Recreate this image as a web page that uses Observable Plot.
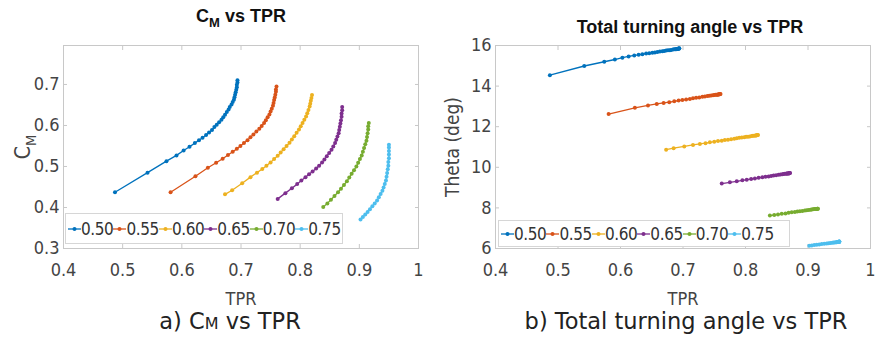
<!DOCTYPE html>
<html>
<head>
<meta charset="utf-8">
<script src="https://cdn.jsdelivr.net/npm/d3@7"></script>
<script src="https://cdn.jsdelivr.net/npm/@observablehq/plot@0.6"></script>
<style>
  body { margin: 0; background: white; }
  #wrap { position: relative; width: 879px; height: 340px; background: white; overflow: hidden; }
  .panel { position: absolute; top: 0; }
  .title { position: absolute; font-family: "Liberation Sans", Arial, sans-serif; font-weight: bold; font-size: 18px; color: #111; transform: translateX(-50%); white-space: nowrap; }
  .title sub { font-size: 13px; vertical-align: -5px; }
  .caption { position: absolute; font-family: "DejaVu Sans", sans-serif; font-size: 22.5px; color: #222; transform: translateX(-50%); white-space: nowrap; }
  .legend { position: absolute; display: flex; align-items: center; box-sizing: border-box; border: 1px solid #d6d6d6; background: white; padding-left: 2px;
            font-family: "Liberation Sans Narrow", "Arial Narrow", "DejaVu Sans Condensed", sans-serif; font-size: 17px; letter-spacing: -0.4px; color: #333; }
  .entry { display: inline-flex; align-items: center; }
</style>
</head>
<body>
<div id="wrap"></div>
<script>
// ---------- data ----------
const labels = ["0.50", "0.55", "0.60", "0.65", "0.70", "0.75"];
const colors = ["#0072BD", "#D95319", "#EDB120", "#7E2F8E", "#77AC30", "#4DBEEE"];

const tpr050 = [0.487,0.542,0.574,0.591,0.603,0.613,0.622,0.629,0.635,0.641,0.646,0.651,0.655,0.659,0.663,0.667,0.670,0.673,0.676,0.679,0.681,0.684,0.686,0.688,0.689,0.690,0.691,0.692,0.693,0.693,0.694,0.694];
const cm050 = [0.437,0.485,0.513,0.527,0.539,0.548,0.557,0.564,0.570,0.577,0.583,0.589,0.596,0.602,0.608,0.614,0.620,0.626,0.633,0.639,0.645,0.651,0.657,0.663,0.669,0.675,0.681,0.687,0.693,0.699,0.705,0.710];
const theta050 = [14.54,14.99,15.20,15.31,15.40,15.46,15.51,15.54,15.57,15.60,15.62,15.64,15.66,15.68,15.70,15.72,15.73,15.75,15.76,15.77,15.78,15.80,15.81,15.82,15.82,15.83,15.83,15.84,15.84,15.85,15.85,15.86];

const tpr055 = [0.581,0.623,0.644,0.658,0.669,0.678,0.686,0.693,0.699,0.705,0.711,0.716,0.721,0.726,0.731,0.735,0.739,0.742,0.745,0.748,0.750,0.752,0.754,0.755,0.756,0.757,0.758,0.759,0.759,0.760];
const cm055 = [0.437,0.476,0.497,0.509,0.519,0.528,0.536,0.543,0.550,0.557,0.564,0.571,0.578,0.585,0.592,0.599,0.606,0.613,0.620,0.627,0.634,0.641,0.648,0.655,0.662,0.668,0.675,0.682,0.688,0.695];
const theta055 = [12.62,12.93,13.05,13.12,13.17,13.21,13.25,13.29,13.31,13.34,13.37,13.40,13.42,13.44,13.47,13.49,13.51,13.52,13.54,13.55,13.56,13.57,13.58,13.58,13.59,13.59,13.60,13.60,13.61,13.61];

const tpr060 = [0.673,0.685,0.702,0.716,0.727,0.736,0.743,0.750,0.756,0.762,0.767,0.772,0.777,0.782,0.786,0.790,0.794,0.798,0.801,0.804,0.807,0.810,0.812,0.814,0.816,0.817,0.818,0.819,0.820];
const cm060 = [0.432,0.442,0.459,0.474,0.485,0.494,0.502,0.510,0.518,0.526,0.534,0.542,0.550,0.558,0.566,0.574,0.582,0.590,0.598,0.606,0.614,0.622,0.630,0.638,0.646,0.653,0.660,0.667,0.674];
const theta060 = [10.87,10.94,11.03,11.10,11.15,11.19,11.23,11.26,11.29,11.31,11.34,11.36,11.38,11.41,11.43,11.45,11.47,11.48,11.50,11.51,11.52,11.54,11.55,11.56,11.57,11.57,11.58,11.59,11.59];

const tpr065 = [0.762,0.775,0.786,0.795,0.802,0.809,0.815,0.821,0.827,0.832,0.837,0.841,0.845,0.849,0.853,0.856,0.859,0.861,0.863,0.865,0.866,0.867,0.868,0.869,0.870,0.870,0.871,0.871];
const cm065 = [0.421,0.435,0.447,0.457,0.466,0.474,0.481,0.488,0.495,0.502,0.510,0.517,0.525,0.533,0.541,0.549,0.557,0.565,0.573,0.581,0.589,0.597,0.605,0.613,0.621,0.629,0.637,0.645];
const theta065 = [9.20,9.26,9.31,9.36,9.39,9.42,9.45,9.48,9.51,9.53,9.55,9.57,9.59,9.61,9.63,9.64,9.66,9.67,9.68,9.68,9.69,9.69,9.70,9.70,9.71,9.71,9.72,9.72];

const tpr070 = [0.839,0.846,0.852,0.858,0.864,0.869,0.874,0.879,0.883,0.887,0.891,0.895,0.898,0.901,0.904,0.906,0.908,0.910,0.912,0.913,0.914,0.915,0.915,0.916];
const cm070 = [0.401,0.410,0.419,0.428,0.437,0.446,0.455,0.464,0.473,0.482,0.491,0.500,0.509,0.518,0.527,0.536,0.545,0.554,0.563,0.572,0.581,0.590,0.598,0.606];
const theta070 = [7.62,7.65,7.68,7.71,7.73,7.76,7.78,7.80,7.82,7.84,7.85,7.87,7.89,7.90,7.91,7.92,7.93,7.94,7.94,7.95,7.95,7.96,7.96,7.96];

const tpr075 = [0.902,0.906,0.910,0.914,0.918,0.922,0.926,0.930,0.933,0.936,0.939,0.941,0.943,0.945,0.946,0.947,0.948,0.949,0.949,0.950,0.950,0.950,0.950,0.950];
const cm075 = [0.371,0.377,0.383,0.389,0.396,0.403,0.410,0.417,0.425,0.433,0.441,0.449,0.457,0.466,0.475,0.484,0.493,0.502,0.511,0.520,0.529,0.538,0.546,0.553];
const theta075 = [6.13,6.15,6.17,6.19,6.20,6.22,6.23,6.25,6.26,6.27,6.28,6.29,6.30,6.31,6.31,6.32,6.32,6.32,6.33,6.33,6.33,6.33,6.34,6.34];

const xTicks = [0.4, 0.5, 0.6, 0.7, 0.8, 0.9, 1];
const cmTicks = [0.3, 0.4, 0.5, 0.6, 0.7];
const thetaTicks = [6, 8, 10, 12, 14, 16];

// ---------- build table ----------
const seriesList = [
  [labels[0], tpr050, cm050, theta050],
  [labels[1], tpr055, cm055, theta055],
  [labels[2], tpr060, cm060, theta060],
  [labels[3], tpr065, cm065, theta065],
  [labels[4], tpr070, cm070, theta070],
  [labels[5], tpr075, cm075, theta075]
];
const rows = seriesList.flatMap(([label, t, c, th]) => t.map((v, i) => ({label, tpr: v, cm: c[i], theta: th[i]})));

const FONT = "'Liberation Sans Narrow','Arial Narrow','DejaVu Sans Condensed','Liberation Sans',sans-serif";
const AX = "#c8c8c8";
const fmt = d => String(d);

function panel({width, marginLeft, marginRight, yKey, yDomain, yTicks, yLabel, yLabelOffset}) {
  return Plot.plot({
    width, height: 310,
    marginLeft, marginRight, marginTop: 45, marginBottom: 62,
    style: {fontFamily: FONT, fontSize: "18px", color: "#444", background: "white", overflow: "visible"},
    x: {domain: [0.4, 1]},
    y: {domain: yDomain},
    color: {domain: labels, range: colors},
    marks: [
      Plot.frame({stroke: AX}),
      Plot.axisX(xTicks, {anchor: "bottom", tickSize: -4, tickPadding: 19, stroke: AX, tickFormat: fmt,
        label: "TPR", labelAnchor: "center", labelOffset: 56, labelArrow: "none"}),
      Plot.axisX(xTicks, {anchor: "top", tickSize: -4, stroke: AX, tickFormat: () => "", label: null}),
      Plot.axisY(yTicks, {anchor: "left", tickSize: -4, tickPadding: 8, stroke: AX, tickFormat: fmt,
        label: yLabel, labelAnchor: "center", labelOffset: yLabelOffset, labelArrow: "none"}),
      Plot.axisY(yTicks, {anchor: "right", tickSize: -4, stroke: AX, tickFormat: () => "", label: null}),
      Plot.line(rows, {x: "tpr", y: yKey, z: "label", stroke: "label", strokeWidth: 1.3}),
      Plot.dot(rows, {x: "tpr", y: yKey, fill: "label", r: 2})
    ]
  });
}

const wrap = document.getElementById("wrap");

const left = panel({width: 440, marginLeft: 63, marginRight: 22, yKey: "cm", yDomain: [0.3, 0.795], yTicks: cmTicks, yLabel: "C", yLabelOffset: 48});
left.classList.add("panel"); left.style.left = "0px";
wrap.appendChild(left);

const right = panel({width: 439, marginLeft: 55, marginRight: 9, yKey: "theta", yDomain: [6, 16], yTicks: thetaTicks, yLabel: "Theta (deg)", yLabelOffset: 50});
right.classList.add("panel"); right.style.left = "440px";
wrap.appendChild(right);

// bigger axis labels; subscript M on the C_M axis label
d3.select(left).selectAll("text").filter(function() { return this.textContent === "C"; })
  .attr("font-size", 21)
  .each(function() {
    d3.select(this).append("tspan").attr("dy", "0.35em").attr("font-size", "0.7em").text("M");
  });
d3.select(right).selectAll("text").filter(function() { return this.textContent === "Theta (deg)"; })
  .attr("font-size", 19);

// titles
function addDiv(cls, html, x, y) {
  const d = document.createElement("div");
  d.className = cls; d.innerHTML = html;
  d.style.left = x + "px"; d.style.top = y + "px";
  wrap.appendChild(d);
  return d;
}
addDiv("title", "C<sub>M</sub> vs TPR", 241, 6);
addDiv("title", "Total turning angle vs TPR", 690, 17);
addDiv("caption", "a) C<span style=\"font-variant: small-caps\">m</span> vs TPR", 230, 308);
addDiv("caption", "b) Total turning angle vs TPR", 686, 308);

// legends
function legend(x, y, w, h) {
  const lg = document.createElement("div");
  lg.className = "legend";
  Object.assign(lg.style, {left: x + "px", top: y + "px", width: w + "px", height: h + "px"});
  labels.forEach((lab, i) => {
    const e = document.createElement("span");
    e.className = "entry";
    e.innerHTML = `<svg width="13" height="10"><line x1="0" x2="13" y1="5" y2="5" stroke="${colors[i]}" stroke-width="1.3"/><circle cx="6.5" cy="5" r="2" fill="${colors[i]}"/></svg><span>${lab}</span>`;
    lg.appendChild(e);
  });
  wrap.appendChild(lg);
}
legend(65, 213, 278, 31);
legend(498, 220, 292, 27);
</script>
</body>
</html>
